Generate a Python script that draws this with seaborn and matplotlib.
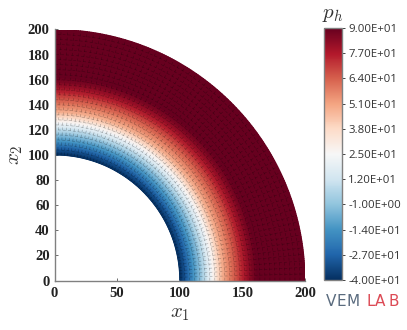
import numpy as np
import matplotlib
matplotlib.use('Agg')
import matplotlib.pyplot as plt
import seaborn as sns

# ── Data ──────────────────────────────────────────────────
radius = [100, 102, 105, 108, 111, 114, 118, 122, 126, 130, 134, 138, 142, 146, 150, 154, 158, 162, 166, 180, 200]
pressure = [-40, -36, -29, -21, -14, -7, 3, 14, 25, 37, 48, 55, 62, 68, 75, 81, 86, 90, 93, 95, 95]
mesh_radius = list(range(100, 201, 4))
n_sectors = 60
x_ticks = [0, 50, 100, 150, 200]
y_ticks = [0, 20, 40, 60, 80, 100, 120, 140, 160, 180, 200]
cbar_ticks = [90, 77, 64, 51, 38, 25, 12, -1, -14, -27, -40]
cbar_labels = ['9.00E+01', '7.70E+01', '6.40E+01', '5.10E+01', '3.80E+01', '2.50E+01',
               '1.20E+01', '-1.00E+00', '-1.40E+01', '-2.70E+01', '-4.00E+01']
logo_letters = ['V', 'E', 'M', 'L', 'A', 'B']
logo_colors = ['#5A6B7E', '#5A6B7E', '#5A6B7E', '#DC4A55', '#DC4A55', '#DC4A55']
logo_left = [326, 336, 347, 366, 375, 388]

# ── Setup ─────────────────────────────────────────────────
sns.set_theme(style='white')
plt.rcParams['mathtext.fontset'] = 'cm'
cmap = sns.color_palette('RdBu_r', as_cmap=True)
W, H = 407, 330
fig = plt.figure(figsize=(W / 100, H / 100), dpi=100)
ax = fig.add_axes([54.5 / W, 1 - 280.5 / H, 250.5 / W, 251 / H])

# ── Field on the quarter ring ─────────────────────────────
theta = np.linspace(0, np.pi / 2, 181)
rr, tt = np.meshgrid(radius, theta)
zz = np.tile(pressure, (len(theta), 1))
mesh = ax.pcolormesh(rr * np.cos(tt), rr * np.sin(tt), zz, cmap=cmap,
                     vmin=-40, vmax=90, shading='gouraud', rasterized=True)

# ── Element edges ─────────────────────────────────────────
for r in mesh_radius[1:-1]:
    ax.plot(r * np.cos(theta), r * np.sin(theta), color='black', lw=0.4,
            alpha=0.32, dashes=(5, 4))
for t in np.linspace(0, np.pi / 2, n_sectors + 1)[1:-1]:
    ax.plot([100 * np.cos(t), 200 * np.cos(t)], [100 * np.sin(t), 200 * np.sin(t)],
            color='black', lw=0.4, alpha=0.32, dashes=(5, 4))

ax.set_xlim(0, 200)
ax.set_ylim(0, 200)
ax.set_xticks(x_ticks)
ax.set_yticks(y_ticks)
ax.tick_params(axis='both', length=2, width=0.6, direction='in', color='#555555',
               labelsize=10.5, labelcolor='#222222', left=True, bottom=True)
ax.tick_params(axis='x', pad=5)
ax.tick_params(axis='y', pad=3.5)
for label in ax.get_xticklabels() + ax.get_yticklabels():
    label.set_family('Liberation Serif')
    label.set_fontweight('bold')
ax.spines['top'].set_visible(False)
ax.spines['right'].set_visible(False)
for side in ['left', 'bottom']:
    ax.spines[side].set_color('#808080')
    ax.spines[side].set_linewidth(1.0)
ax.set_xlabel('$x_1$', fontsize=15, color='#333333', labelpad=2)
ax.set_ylabel('$x_2$', fontsize=15, color='#333333', labelpad=2)

# ── Colourbar ─────────────────────────────────────────────
cax = fig.add_axes([324 / W, 1 - 280 / H, 18 / W, 252 / H])
cbar = fig.colorbar(mesh, cax=cax, ticks=cbar_ticks)
cbar.ax.set_yticklabels(cbar_labels)
cbar.ax.tick_params(length=2, width=0.7, direction='out', color='#444444', pad=2.5,
                    labelsize=8.2, labelcolor='#333333', right=True)
for label in cbar.ax.get_yticklabels():
    label.set_family('Open Sans')
cbar.outline.set_edgecolor('#808080')
cbar.outline.set_linewidth(1.0)
fig.text(333 / W, 1 - 14 / H, '$p_h$', fontsize=15, color='#333333', ha='center', va='center')

# ── Logo ──────────────────────────────────────────────────
for letter, color, left in zip(logo_letters, logo_colors, logo_left):
    fig.text(left / W, 1 - 301.5 / H, letter, fontsize=11, family='DejaVu Sans', color=color,
             ha='left', va='center')

plt.savefig('out.png', dpi=100)
plt.close()
